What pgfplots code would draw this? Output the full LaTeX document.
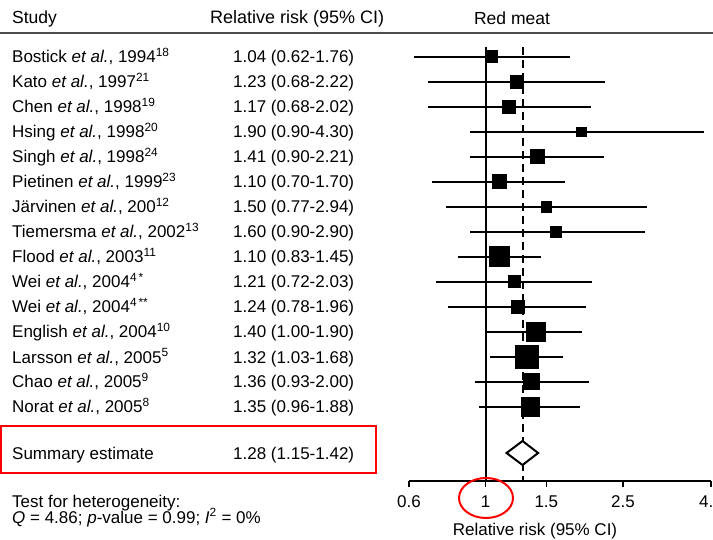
\documentclass[border=0pt]{standalone}
\usepackage{pgfplots}
\pgfplotsset{compat=1.18}
\usepackage{fontspec}
\setmainfont{Liberation Sans}
\newcommand\ea{\textit{et al.}}
\newcommand\fs{\fontsize{17}{19}\selectfont}
\pgfplotsset{ci/.style={black, line width=2pt, mark=square*, mark indices={2}, mark options={solid, draw=none, fill=black}}}
\begin{document}
\begin{tikzpicture}[x=1pt,y=1pt]
\useasboundingbox (0,0) rectangle (713,-540);
% header
\draw[black!70, line width=1.8pt] (0,-33) -- (713,-33);
\node[anchor=base west, inner sep=0, font=\fontsize{17.5}{19}\selectfont] at (12,-24) {Study};
\node[anchor=base west, inner sep=0, font=\fontsize{18}{19}\selectfont] at (210,-24) {Relative risk (95\% CI)};
\node[anchor=base, inner sep=0, font=\fontsize{17.5}{19}\selectfont] at (512,-25) {Red meat};
% study names
\begin{scope}[every node/.style={anchor=base west, inner sep=0, font=\fs}]
\node at (12,-63) {Bostick \ea, 1994\textsuperscript{18}};
\node at (12,-88) {Kato \ea, 1997\textsuperscript{21}};
\node at (12,-113) {Chen \ea, 1998\textsuperscript{19}};
\node at (12,-138) {Hsing \ea, 1998\textsuperscript{20}};
\node at (12,-163) {Singh \ea, 1998\textsuperscript{24}};
\node at (12,-188) {Pietinen \ea, 1999\textsuperscript{23}};
\node at (12,-213) {Järvinen \ea, 200\textsuperscript{12}};
\node at (12,-238) {Tiemersma \ea, 2002\textsuperscript{13}};
\node at (12,-263) {Flood \ea, 2003\textsuperscript{11}};
\node at (12,-288) {Wei \ea, 2004\textsuperscript{4\,*}};
\node at (12,-313) {Wei \ea, 2004\textsuperscript{4\,**}};
\node at (12,-338) {English \ea, 2004\textsuperscript{10}};
\node at (12,-363) {Larsson \ea, 2005\textsuperscript{5}};
\node at (12,-388) {Chao \ea, 2005\textsuperscript{9}};
\node at (12,-413) {Norat \ea, 2005\textsuperscript{8}};
\node at (12,-459) {Summary estimate};
\node at (233,-63) {1.04 (0.62-1.76)};
\node at (233,-88) {1.23 (0.68-2.22)};
\node at (233,-113) {1.17 (0.68-2.02)};
\node at (233,-138) {1.90 (0.90-4.30)};
\node at (233,-163) {1.41 (0.90-2.21)};
\node at (233,-188) {1.10 (0.70-1.70)};
\node at (233,-213) {1.50 (0.77-2.94)};
\node at (233,-238) {1.60 (0.90-2.90)};
\node at (233,-263) {1.10 (0.83-1.45)};
\node at (233,-288) {1.21 (0.72-2.03)};
\node at (233,-313) {1.24 (0.78-1.96)};
\node at (233,-338) {1.40 (1.00-1.90)};
\node at (233,-363) {1.32 (1.03-1.68)};
\node at (233,-388) {1.36 (0.93-2.00)};
\node at (233,-413) {1.35 (0.96-1.88)};
\node at (233,-459) {1.28 (1.15-1.42)};
\node at (12,-507) {Test for heterogeneity:};
\node at (12,-523) {\textit{Q} = 4.86; \textit{p}-value = 0.99; \textit{I}\textsuperscript{2} = 0\%};
\end{scope}
\draw[red, line width=2pt] (1,-426) rectangle (376,-473);
\begin{axis}[at={(409pt,-481pt)}, anchor=south west, scale only axis,
  width=302pt, height=434pt, xmode=log, xmin=0.6, xmax=4.5,
  ymin=-17.96, ymax=-0.6, clip=false,
  axis y line=none, axis x line=bottom, x axis line style={-, line width=1.5pt},
  xtick={0.6,1,1.5,2.5,4.5}, xticklabels={0.6,1,1.5,2.5,4.5}, minor xtick={},
  tick align=outside, major tick length=6pt, every tick/.style={black, line width=1.5pt},
  /pgf/number format/assume math mode=true,
  xticklabel style={font=\fs, yshift=-5pt}]
\addplot[black, line width=2pt] coordinates {(1,-0.6) (1,-17.96)};
\addplot[black, line width=2pt, dash pattern=on 8pt off 5pt] coordinates {(1.28,-0.6) (1.28,-17.96)};
\addplot[ci, mark size=5.5pt] coordinates {(0.62,-1) (1.04,-1) (1.76,-1)};
\addplot[ci, mark size=6pt] coordinates {(0.68,-2) (1.23,-2) (2.22,-2)};
\addplot[ci, mark size=6pt] coordinates {(0.68,-3) (1.17,-3) (2.02,-3)};
\addplot[ci, mark size=4.3pt] coordinates {(0.90,-4) (1.90,-4) (4.30,-4)};
\addplot[ci, mark size=6.5pt] coordinates {(0.90,-5) (1.41,-5) (2.21,-5)};
\addplot[ci, mark size=6.5pt] coordinates {(0.70,-6) (1.10,-6) (1.70,-6)};
\addplot[ci, mark size=4.6pt] coordinates {(0.77,-7) (1.50,-7) (2.94,-7)};
\addplot[ci, mark size=5.3pt] coordinates {(0.90,-8) (1.60,-8) (2.90,-8)};
\addplot[ci, mark size=9.5pt] coordinates {(0.83,-9) (1.10,-9) (1.45,-9)};
\addplot[ci, mark size=5.5pt] coordinates {(0.72,-10) (1.21,-10) (2.03,-10)};
\addplot[ci, mark size=6.3pt] coordinates {(0.78,-11) (1.24,-11) (1.96,-11)};
\addplot[ci, mark size=8.6pt] coordinates {(1.00,-12) (1.40,-12) (1.90,-12)};
\addplot[ci, mark size=11.2pt] coordinates {(1.03,-13) (1.32,-13) (1.68,-13)};
\addplot[ci, mark size=7.5pt] coordinates {(0.93,-14) (1.36,-14) (2.00,-14)};
\addplot[ci, mark size=8.6pt] coordinates {(0.96,-15) (1.35,-15) (1.88,-15)};
\addplot[black, line width=2pt, fill=white, no marks] coordinates {(1.15,-16.84) (1.28,-16.36) (1.42,-16.84) (1.28,-17.32)} -- cycle;
\end{axis}
\draw[red, line width=2pt] (486,-498) ellipse [x radius=27, y radius=20];
\node[anchor=base, inner sep=0, font=\fs] at (535,-535) {Relative risk (95\% CI)};
\end{tikzpicture}
\end{document}
